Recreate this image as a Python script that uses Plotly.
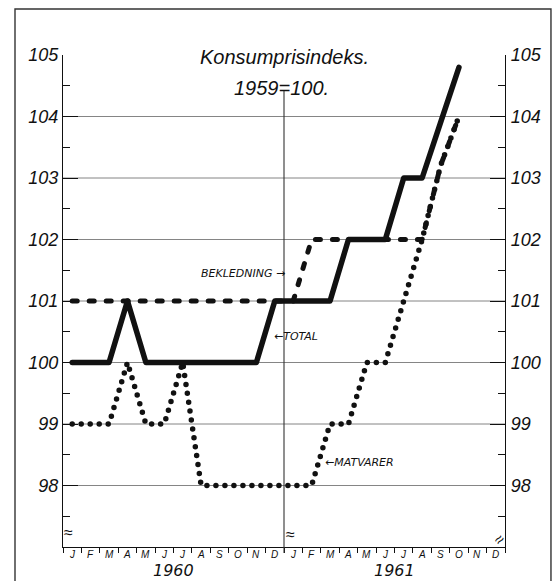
import numpy as np
import plotly.graph_objects as go

# Monthly index values, January 1960 .. October 1961 (1959 = 100)
month_labels = ["J", "F", "M", "A", "M", "J", "J", "A", "S", "O", "N", "D",
                "J", "F", "M", "A", "M", "J", "J", "A", "S", "O", "N", "D"]
years = ["1960", "1961"]

total = [100, 100, 100, 101, 100, 100, 100, 100, 100, 100, 100, 101,
         101, 101, 101, 102, 102, 102, 103, 103, 103.9, 104.8]
bekledning = [101, 101, 101, 101, 101, 101, 101, 101, 101, 101, 101, 101,
              101, 102, 102, 102, 102, 102, 102, 102, 103.2, 104.0]
matvarer = [99, 99, 99, 100, 99, 99, 100, 98, 98, 98, 98, 98,
            98, 98, 99, 99, 100, 100, 101, 102, 103.2, 104.0]

grid_values = [98, 99, 100, 101, 102, 103, 104]
tick_values = [98, 99, 100, 101, 102, 103, 104, 105]
half_values = [97.5, 98.5, 99.5, 100.5, 101.5, 102.5, 103.5, 104.5]

FONT = "Liberation Sans"
LABEL_FONT = "DejaVu Sans"
INK = "#111111"

month_pos = np.arange(len(month_labels)) + 0.5


def ital(s):
    return "<i>" + s + "</i>"


fig = go.Figure()

fig.add_trace(go.Scatter(
    x=month_pos[:len(matvarer)], y=matvarer, mode="lines", name="MATVARER",
    line=dict(color=INK, width=5.5, dash="0px,9px"), showlegend=False))
fig.add_trace(go.Scatter(
    x=month_pos[:len(bekledning)], y=bekledning, mode="lines", name="BEKLEDNING",
    line=dict(color=INK, width=5, dash="5px,12px"), showlegend=False))
fig.add_trace(go.Scatter(
    x=month_pos[:len(total)], y=total, mode="lines", name="TOTAL",
    line=dict(color=INK, width=5.5), showlegend=False))
# carrier for the right-hand axis
fig.add_trace(go.Scatter(x=[None], y=[None], yaxis="y2", showlegend=False,
                         hoverinfo="skip"))

shapes = []
for g in grid_values:
    shapes.append(dict(type="line", xref="x", yref="y", x0=0, x1=24, y0=g, y1=g,
                       line=dict(color="#666666", width=0.8), layer="below"))
# year divider
shapes.append(dict(type="line", xref="x", yref="y", x0=12, x1=12, y0=97, y1=104.43,
                   line=dict(color="#333333", width=1.1), layer="below"))
shapes.append(dict(type="line", xref="x", yref="paper", x0=12, x1=12, y0=0, y1=-0.012,
                   line=dict(color="#333333", width=1.1)))
# outer frame
shapes.append(dict(type="rect", xref="paper", yref="paper",
                   x0=-0.1086, x1=1.1040, y0=-0.09, y1=1.0935,
                   line=dict(color="#333333", width=1.4)))

annotations = [
    dict(text=ital("Konsumprisindeks."), xref="paper", yref="paper", x=0.5, y=1.022,
         showarrow=False, font=dict(family=FONT, size=20, color=INK)),
    dict(text=ital("1959=100."), xref="paper", yref="paper", x=0.495, y=0.959,
         showarrow=False, font=dict(family=FONT, size=20, color=INK)),
    dict(text=ital("BEKLEDNING →"), xref="x", yref="y", x=9.8, y=101.45,
         showarrow=False, font=dict(family=LABEL_FONT, size=11, color=INK)),
    dict(text=ital("←TOTAL"), xref="x", yref="y", x=11.35, y=100.42, xanchor="left",
         showarrow=False, font=dict(family=LABEL_FONT, size=11, color=INK)),
    dict(text=ital("←MATVARER"), xref="x", yref="y", x=14.1, y=98.38, xanchor="left",
         showarrow=False, font=dict(family=LABEL_FONT, size=11, color=INK)),
    dict(text="≈", xref="x", yref="y", x=0.3, y=97.23,
         showarrow=False, font=dict(family=FONT, size=16, color=INK)),
    dict(text="≈", xref="x", yref="y", x=12.35, y=97.2,
         showarrow=False, font=dict(family=FONT, size=16, color=INK)),
    dict(text="≈", xref="x", yref="y", x=23.7, y=97.12, textangle=-45,
         showarrow=False, font=dict(family=FONT, size=16, color=INK)),
]
# month letters just under the time axis
for pos, m in zip(month_pos, month_labels):
    annotations.append(dict(text=ital(m), xref="x", yref="paper", x=pos, y=-0.002,
                            yanchor="top", showarrow=False, borderpad=0,
                            font=dict(family=FONT, size=10, color=INK)))
for i, yr in enumerate(years):
    annotations.append(dict(text=ital(yr), xref="x", yref="paper", x=6 + 12 * i,
                            y=-0.0685, yanchor="bottom", showarrow=False, borderpad=0,
                            font=dict(family=LABEL_FONT, size=16, color=INK)))

yaxis_common = dict(
    range=[97, 105], tickvals=tick_values, ticktext=[ital(str(v)) for v in tick_values],
    showgrid=False, zeroline=False, showline=True, linecolor=INK, linewidth=1.2,
    ticks="inside", ticklen=15, tickwidth=1.1, tickcolor=INK,
    tickfont=dict(family=FONT, size=18, color=INK),
    minor=dict(tickvals=half_values, ticks="inside", ticklen=7, tickwidth=1.1,
               tickcolor=INK, showgrid=False),
    fixedrange=True,
)

fig.update_layout(
    width=557, height=581,
    margin=dict(l=63, r=52, t=55, b=34),
    paper_bgcolor="white", plot_bgcolor="white",
    xaxis=dict(range=[0, 24], showticklabels=False,
               ticks="", showgrid=False, zeroline=False, showline=True,
               linecolor=INK, linewidth=1.2,
               minor=dict(tickvals=list(range(0, 25)), ticks="outside", ticklen=5,
                          tickwidth=1, tickcolor=INK, showgrid=False),
               fixedrange=True),
    yaxis=dict(side="left", ticklabelstandoff=0, **yaxis_common),
    yaxis2=dict(side="right", overlaying="y", ticklabelstandoff=1, **yaxis_common),
    shapes=shapes,
    annotations=annotations,
)

round_caps = """
var gd = document.getElementById('{plot_id}');
gd.querySelectorAll('.scatterlayer path.js-line').forEach(function (p) {
    p.style.strokeLinecap = 'round';
    p.style.strokeLinejoin = 'round';
});
"""

fig.write_html("out.html", post_script=round_caps, config={"displayModeBar": False})
